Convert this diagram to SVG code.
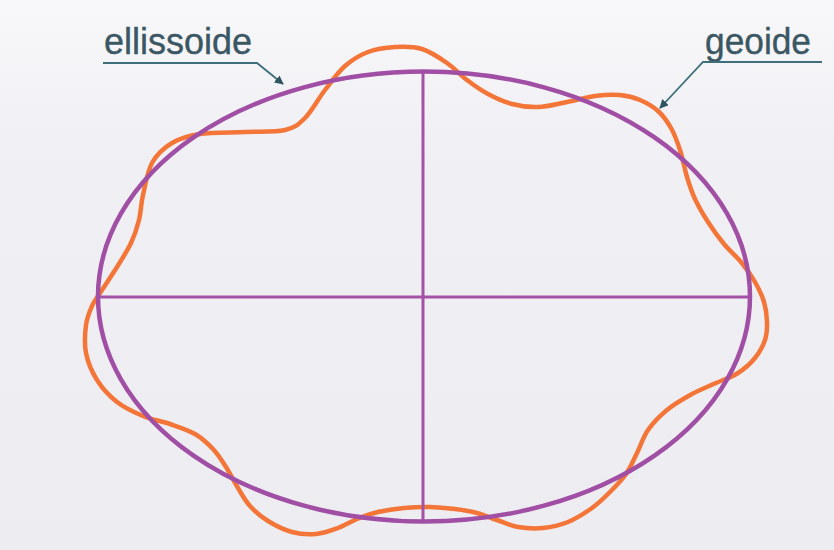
<svg xmlns="http://www.w3.org/2000/svg" width="834" height="550" viewBox="0 0 834 550">
<defs>
<linearGradient id="bg" x1="0" y1="0" x2="0" y2="1">
<stop offset="0" stop-color="#f8f8fa"/>
<stop offset="0.3" stop-color="#efeff4"/>
<stop offset="1" stop-color="#ececf1"/>
</linearGradient>
<marker id="ah" viewBox="0 0 10 10" refX="9" refY="5" markerWidth="9" markerHeight="9" markerUnits="userSpaceOnUse" orient="auto">
<path d="M0,0 L10,5 L0,10 Z" fill="#2f5560"/>
</marker>
<style>
.lbl{font-family:"Liberation Sans",Arial,sans-serif;font-size:37px;fill:#3b5763;stroke:#3b5763;stroke-width:0.4}
.lead{fill:none;stroke:#3f6f78;stroke-width:1.8}
.axis{stroke:#a352a6;stroke-width:3}
.ell{fill:none;stroke:#a04fa5;stroke-width:4.5}
.geo{fill:none;stroke:#f47538;stroke-width:4.5;stroke-linejoin:round}
</style>
</defs>
<rect width="834" height="550" fill="url(#bg)"/>
<g id="geoide">
<path class="geo" d="M100,293 C104.2,286.5 111.8,275.3 117,267 S127.3,250.8 131,243 S137,228 139,220 S140.8,204.5 143,195 S147.2,171.7 152,163 S164,147.8 172,143 S187.8,135.8 200,134 S230.8,132.7 245,132 S275,132.3 285,130 S298.3,124.7 305,118 S318.3,98.7 325,90 S337.8,72.3 345,66 S359.7,55.2 368,52 S386,47.5 395,47 S413.3,46.3 422,49 S439.5,57.8 447,63 S460.2,74.8 467,80 S480.5,90 488,94 S503.7,101.8 512,104 S528.8,107.3 538,107 S557.5,103.8 567,102 S586.2,97.2 595,96 S612.5,94.3 620,95 S633.7,97.3 640,100 S652.8,106.3 658,111 S667.3,121.5 671,128 S677.3,141.8 680,150 S684.5,168.8 687,177 S691.5,191.5 695,199 S703.2,214.5 708,222 S718.5,237.3 724,244 S735.8,255.7 741,262 S751.2,275.3 755,282 S762,295.3 764,302 S766.8,315.7 767,322 S767,334 765,340 S759.5,352.5 755,358 S744.5,368.8 738,373 S723.7,379.5 716,383 S700.2,389.5 692,394 S674.3,404 667,410 S653,422.8 648,430 S640.7,445.7 637,453 S630.5,467.5 626,474 S615.7,486.3 610,492 S599,503 592,508 S576.2,518.7 568,522 S551.3,527.2 543,528 S525.7,528.3 518,527 S503.8,522.3 497,520 S484,514.8 477,513 S462.8,510 455,509 S438.5,507.2 430,507 S412.7,507.2 404,508 S385.8,510.2 378,512 S363.7,516.3 357,519 S344.8,525.5 338,528 S323.7,533.3 316,534 S300,534.2 292,532 S275,525.3 268,521 S255,511.5 250,506 S242,494.5 238,488 S230.2,473.5 226,467 S218.2,454.5 213,449 S202.2,438.2 195,434 S178.7,427 170,424 S151.8,419.7 143,416 S124.7,408 117,402 S102.2,388.2 97,380 S87.8,362.2 86,353 S85,332.8 86,325 S89.7,311.3 92,306 S95.8,299.5 100,293 Z"/>
</g>
<g id="ellissoide">
<line class="axis" x1="100" y1="297" x2="748" y2="297"/>
<line class="axis" x1="423" y1="72" x2="423" y2="522"/>
<ellipse class="ell" cx="424" cy="296.5" rx="326" ry="225"/>
</g>
<g id="label-ellissoide">
<text class="lbl" x="104" y="54" textLength="148" lengthAdjust="spacingAndGlyphs">ellissoide</text>
</g>
<g id="label-geoide">
<text class="lbl" x="705" y="54" textLength="106" lengthAdjust="spacingAndGlyphs">geoide</text>
</g>
<g id="connectors">
<polyline class="lead" points="103,63 257,63 283,84" marker-end="url(#ah)"/>
<polyline class="lead" points="822,62 703,62 660,108" marker-end="url(#ah)"/>
</g>
</svg>
